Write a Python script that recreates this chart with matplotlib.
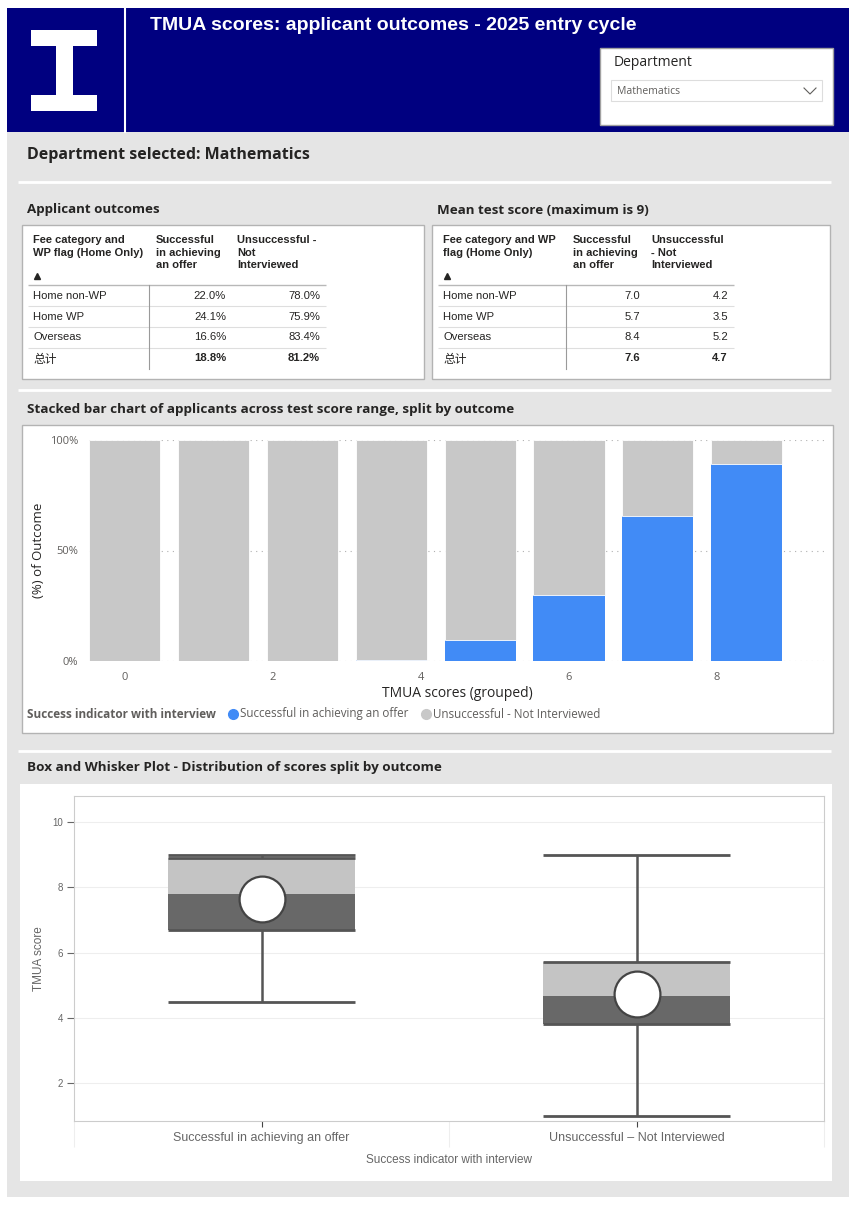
import matplotlib
matplotlib.use("Agg")
import matplotlib.pyplot as plt
from matplotlib.patches import Rectangle
from matplotlib.transforms import blended_transform_factory

department = "Mathematics"
fee_categories = ["Home non-WP", "Home WP", "Overseas"]
total_label = "总计"

pct_success = [22.0, 24.1, 16.6]
pct_unsuccessful = [78.0, 75.9, 83.4]
pct_total = [18.8, 81.2]

mean_success = [7.0, 5.7, 8.4]
mean_unsuccessful = [4.2, 3.5, 5.2]
mean_total = [7.6, 4.7]

score_bins = [0, 1.2, 2.4, 3.6, 4.8, 6.0, 7.2, 8.4]
share_success = [0, 0, 0, 0.5, 9.4, 29.8, 65.6, 89.0]

outcomes = ["Successful in achieving an offer", "Unsuccessful \u2013 Not Interviewed"]
box_min = [4.5, 1.0]
box_q1 = [6.7, 3.8]
box_median = [7.8, 4.68]
box_q3 = [8.89, 5.7]
box_max = [9.0, 9.0]
box_mean = [7.65, 4.73]

# ---- styling ----
NAVY = "#000080"
BG = "#e5e5e5"
BLUE = "#418bf6"
LGRAY = "#c8c8c8"
ARIAL = "Liberation Sans"
SEGOE = "Open Sans"
CJK = ["Noto Sans CJK SC", "DejaVu Sans"]

fig = plt.figure(figsize=(8.6, 12.08), dpi=100)
fig.patch.set_facecolor("white")

# background canvas in pixel coordinates
bg = fig.add_axes([0, 0, 1, 1])
bg.set_xlim(0, 860)
bg.set_ylim(1208, 0)
bg.axis("off")


def rect(x0, y0, x1, y1, fc, ec="none", lw=1, z=1):
    bg.add_patch(Rectangle((x0, y0), x1 - x0, y1 - y0, facecolor=fc,
                           edgecolor=ec, linewidth=lw, zorder=z))


def hline(y, x0, x1, color, lw=1, z=2):
    bg.plot([x0, x1], [y, y], color=color, lw=lw, zorder=z, solid_capstyle="butt")


# header
rect(7, 8, 849, 132, NAVY)
bg.plot([125, 125], [8, 132], color="white", lw=1.5, zorder=2)
rect(31, 30, 97, 46, "white", z=2)
rect(56, 46, 73, 95, "white", z=2)
rect(31, 95, 97, 111, "white", z=2)
bg.text(150, 25, "TMUA scores: applicant outcomes - 2025 entry cycle", color="white",
        fontsize=14, fontweight="bold", family=ARIAL, va="center", ha="left", zorder=3)

# department slicer
rect(600, 48, 833, 125, "white", ec="#a0a0a0", lw=1, z=2)
bg.text(614, 62, "Department", fontsize=10, family=SEGOE, color="#252423", va="center", zorder=3)
rect(611, 80, 822, 101, "white", ec="#dddddd", lw=0.8, z=3)
bg.text(617, 91, department, fontsize=7.5, family=SEGOE, color="#605e5c", va="center", zorder=4)
bg.plot([804, 810, 816], [88, 94, 88], color="#605e5c", lw=0.8, zorder=4)

# grey page body
rect(7, 132, 849, 1197, BG)
bg.text(27, 155, "Department selected: " + department, fontsize=11.5, fontweight="bold",
        family=SEGOE, color="#252423", va="center", zorder=3)
hline(182, 18, 831, "white", lw=2)


def draw_table(x0, x1, title, header1, header2, header3, col_x, vline_x, line_x1,
               col2_vals, col3_vals, totals, fmt):
    bg.text(x0 + 5, 210, title, fontsize=9.6, fontweight="bold", family=SEGOE,
            color="#252423", va="center", zorder=3)
    rect(x0, 225, x1, 379, "white", ec="#b3b3b3", lw=1, z=2)
    lx0 = x0 + 6
    for hx, htxt in zip([x0 + 11, col_x[0], col_x[1]], [header1, header2, header3]):
        bg.text(hx, 235, htxt, fontsize=8, fontweight="bold", family=ARIAL,
                color="#252423", va="top", ha="left", linespacing=1.32, zorder=3)
    bg.plot([x0 + 15], [276], marker="^", ms=4, color="#252423", zorder=3)
    hline(285, lx0, line_x1, "#b8b8b8", lw=1, z=3)
    rows_y = [296, 316.5, 337.3, 358]
    for y in [306, 327, 348]:
        hline(y, lx0, line_x1, "#dedede", lw=0.8, z=3)
    bg.plot([vline_x, vline_x], [285, 369], color="#9a9a9a", lw=0.8, zorder=3)
    for i, cat in enumerate(fee_categories):
        y = rows_y[i]
        bg.text(x0 + 11, y, cat, fontsize=8.1, family=ARIAL, color="#252423", va="center", zorder=3)
        bg.text(col_x[2], y, fmt(col2_vals[i]), fontsize=8.1, family=ARIAL,
                color="#252423", va="center", ha="right", zorder=3)
        bg.text(col_x[3], y, fmt(col3_vals[i]), fontsize=8.1, family=ARIAL,
                color="#252423", va="center", ha="right", zorder=3)
    y = rows_y[3]
    bg.text(x0 + 11, y + 1, total_label, fontsize=8.5, family=CJK, color="#252423",
            va="center", zorder=3)
    bg.text(col_x[2], y, fmt(totals[0]), fontsize=8.1, fontweight="bold", family=ARIAL,
            color="#252423", va="center", ha="right", zorder=3)
    bg.text(col_x[3], y, fmt(totals[1]), fontsize=8.1, fontweight="bold", family=ARIAL,
            color="#252423", va="center", ha="right", zorder=3)


draw_table(22, 424, "Applicant outcomes", "Fee category and\nWP flag (Home Only)",
           "Successful\nin achieving\nan offer", "Unsuccessful -\nNot\nInterviewed",
           [156, 237, 226, 320], 149, 326, pct_success, pct_unsuccessful, pct_total,
           lambda v: f"{v:.1f}%")
draw_table(432, 830, "Mean test score (maximum is 9)", "Fee category and WP\nflag (Home Only)",
           "Successful\nin achieving\nan offer", "Unsuccessful\n- Not\nInterviewed",
           [573, 651, 640, 728], 566, 734, mean_success, mean_unsuccessful, mean_total,
           lambda v: f"{v:.1f}")

hline(390, 18, 831, "white", lw=2)

# ---- stacked bar chart ----
bg.text(27, 410, "Stacked bar chart of applicants across test score range, split by outcome",
        fontsize=9.7, fontweight="bold", family=SEGOE, color="#252423", va="center", zorder=3)
rect(22, 425, 833, 733, "white", ec="#b3b3b3", lw=1, z=2)

ax = fig.add_axes([89 / 860, 1 - 661 / 1208, (826 - 89) / 860, (661 - 440) / 1208])
ax.set_facecolor("none")
share_fail = [100 - s for s in share_success]
ax.bar(score_bins, share_success, width=0.96, color=BLUE, zorder=3)
ax.bar(score_bins, share_fail, bottom=share_success, width=0.96, color=LGRAY,
       edgecolor="white", linewidth=0.6, zorder=3)
ax.set_xlim(-0.48, 9.47)
ax.set_ylim(0, 100)
ax.set_yticks([0, 50, 100])
ax.set_yticklabels(["0%", "50%", "100%"])
ax.set_xticks([0, 2, 4, 6, 8])
ax.tick_params(length=0, labelsize=8, colors="#605e5c", pad=8)
for lab in ax.get_xticklabels() + ax.get_yticklabels():
    lab.set_family(SEGOE)
ax.grid(axis="y", linestyle=(0, (1, 4)), color="#b0b0b0", lw=0.8, zorder=0)
for s in ax.spines.values():
    s.set_visible(False)
ax.set_ylabel("(%) of Outcome", fontsize=9.5, family=SEGOE, color="#252423", labelpad=3)
ax.set_xlabel("TMUA scores (grouped)", fontsize=10, family=SEGOE, color="#252423", labelpad=2)

# legend
bg.text(27, 714, "Success indicator with interview", fontsize=8.5, fontweight="bold",
        family=SEGOE, color="#605e5c", va="center", zorder=3)
bg.plot([233], [714], "o", ms=7, color=BLUE, zorder=3)
bg.text(240, 714, outcomes[0], fontsize=8.4, family=SEGOE, color="#605e5c", va="center", zorder=3)
bg.plot([426], [714], "o", ms=7, color=LGRAY, zorder=3)
bg.text(433, 714, "Unsuccessful - Not Interviewed", fontsize=8.4, family=SEGOE,
        color="#605e5c", va="center", zorder=3)

hline(751, 18, 831, "white", lw=2)

# ---- box and whisker ----
bg.text(27, 768, "Box and Whisker Plot - Distribution of scores split by outcome",
        fontsize=9.7, fontweight="bold", family=SEGOE, color="#252423", va="center", zorder=3)
rect(20, 784, 832, 1181, "white", z=2)

bx = fig.add_axes([74 / 860, 1 - 1121 / 1208, (824 - 74) / 860, (1121 - 796) / 1208])
xs = list(range(len(outcomes)))
w = 0.5
bx.bar(xs, [q3 - m for q3, m in zip(box_q3, box_median)], bottom=box_median, width=w,
       color="#c4c4c4", zorder=2)
bx.bar(xs, [m - q1 for m, q1 in zip(box_median, box_q1)], bottom=box_q1, width=w,
       color="#686868", zorder=2)
LC = "#555555"
for i in xs:
    bx.hlines([box_q1[i], box_q3[i], box_min[i], box_max[i]], i - w / 2, i + w / 2,
              color=LC, lw=2, zorder=3)
    bx.vlines(i, box_q3[i], box_max[i], color=LC, lw=1.8, zorder=3)
    bx.vlines(i, box_min[i], box_q1[i], color=LC, lw=1.8, zorder=3)
bx.plot(xs, box_mean, "o", ms=33, mfc="white", mec="#444444", mew=1.6, ls="none", zorder=4)
bx.set_xlim(-0.5, 1.5)
bx.set_ylim(0.84, 10.8)
bx.set_yticks([2, 4, 6, 8, 10])
bx.set_xticks(xs)
bx.set_xticklabels(outcomes)
bx.tick_params(axis="y", length=5, width=0.8, color="#666666", labelsize=7,
               labelcolor="#666666", pad=3)
bx.tick_params(axis="x", length=4, width=0.8, color="#444444", labelsize=9,
               labelcolor="#666666", pad=4, direction="out")
for lab in bx.get_xticklabels() + bx.get_yticklabels():
    lab.set_family(ARIAL)
bx.grid(axis="y", color="#eeeeee", lw=0.8, zorder=0)
for s in bx.spines.values():
    s.set_color("#cccccc")
    s.set_linewidth(0.8)
trans = blended_transform_factory(bx.transData, bx.transAxes)
bx.vlines([-0.5, 0.5, 1.5], -0.08, 0, transform=trans, color="#eeeeee", lw=0.8, clip_on=False)
bx.set_ylabel("TMUA score", fontsize=8.5, family=ARIAL, color="#666666", labelpad=5)
bx.set_xlabel("Success indicator with interview", fontsize=8.5, family=ARIAL,
              color="#666666", labelpad=7)

fig.savefig("out.png", dpi=100)
